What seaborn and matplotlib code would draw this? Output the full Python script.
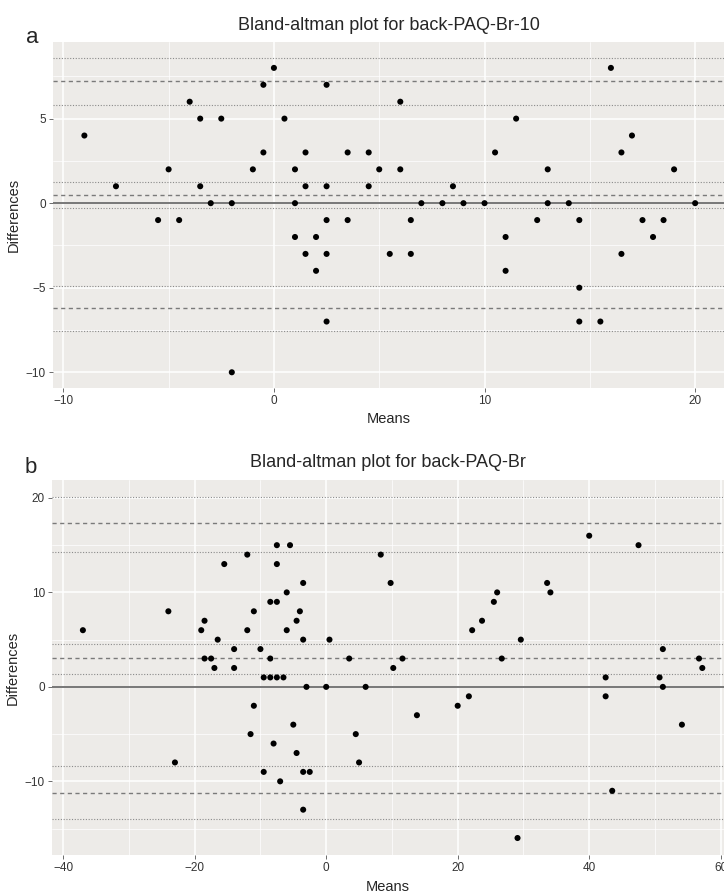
import matplotlib
matplotlib.use("Agg")
import matplotlib.pyplot as plt
import seaborn as sns
import pandas as pd

# panel a: back-PAQ-Br-10
means_a = [-9.0, -7.5, -5.5, -5.0, -4.5, -4.0, -3.5, -3.5, -3.0, -2.5, -2.0, -2.0,
           -1.0, -0.5, -0.5, 0.0, 0.5, 1.0, 1.0, 1.0, 1.5, 1.5, 1.5, 2.0, 2.0,
           2.5, 2.5, 2.5, 2.5, 2.5, 3.5, 3.5, 4.5, 4.5,
           5.0, 5.5, 6.0, 6.0, 6.5, 6.5, 7.0, 8.0, 8.5, 9.0, 10.0, 10.5, 11.0, 11.0,
           11.5, 12.5, 13.0, 13.0, 14.0, 14.5, 14.5, 14.5, 15.5, 16.0, 16.5, 16.5,
           17.0, 17.5, 18.0, 18.5, 19.0, 20.0]
diffs_a = [4, 1, -1, 2, -1, 6, 5, 1, 0, 5, 0, -10,
           2, 7, 3, 8, 5, 2, 0, -2, 3, 1, -3, -2, -4,
           7, 1, -1, -3, -7, 3, -1, 3, 1,
           2, -3, 6, 2, -1, -3, 0, 0, 1, 0, 0, 3, -2, -4,
           5, -1, 2, 0, 0, -1, -5, -7, -7, 8, 3, -3,
           4, -1, -2, -1, 2, 0]
mean_a = 0.47
loa_a = [7.24, -6.2]
ci_a = [8.6, 5.82, 1.25, -0.3, -4.88, -7.55]

# panel b: back-PAQ-Br
means_b = [-37.0, -24.0, -23.0, -19.0, -18.5, -18.5, -17.5, -17.0, -16.5, -15.5,
           -14.0, -14.0, -12.0, -12.0, -11.5, -11.0, -11.0, -10.0, -9.5, -9.5,
           -8.5, -8.5, -8.5, -8.0, -7.5, -7.5, -7.5, -7.5, -7.0, -6.5, -6.0, -6.0,
           -5.5, -5.0, -4.5, -4.5, -4.0, -3.5, -3.5, -3.5, -3.5, -3.0, -2.5,
           0.0, 0.5, 3.5, 4.5, 5.0, 6.0,
           8.3, 9.8, 10.2, 11.6, 13.8, 20.0, 21.7, 22.2, 23.7, 25.5, 26.0, 26.7,
           29.1, 29.6, 33.6, 34.1, 40.0, 42.5, 42.5, 43.5, 47.5, 50.7, 51.2, 51.2,
           54.1, 56.7, 57.2]
diffs_b = [6, 8, -8, 6, 7, 3, 3, 2, 5, 13,
           4, 2, 14, 6, -5, 8, -2, 4, 1, -9,
           9, 3, 1, -6, 15, 13, 9, 1, -10, 1, 10, 6,
           15, -4, 7, -7, 8, 11, 5, -9, -13, 0, -9,
           0, 5, 3, -5, -8, 0,
           14, 11, 2, 3, -3, -2, -1, 6, 7, 9, 10, 3,
           -16, 5, 11, 10, 16, 1, -1, -11, 15, 1, 4, 0,
           -4, 3, 2]
mean_b = 3.03
loa_b = [17.3, -11.23]
ci_b = [20.1, 14.3, 4.58, 1.34, -8.42, -14.0]

sns.set_theme(style="darkgrid", rc={"axes.facecolor": "#EDEBE8",
                                    "grid.color": "white"})
plt.rcParams["font.family"] = ["Liberation Sans", "DejaVu Sans"]

fig = plt.figure(figsize=(7.24, 8.94), dpi=100)
ax_a = fig.add_axes([0.0732, 0.566, 0.9268, 0.387])
ax_b = fig.add_axes([0.0718, 0.0436, 0.9282, 0.4195])


def bland_altman(ax, means, diffs, mean_d, loa, ci, title, letter, letter_y,
                 xlim, ylim, xmaj, xmin, ymaj, ymin):
    df = pd.DataFrame({"Means": means, "Differences": diffs})
    ax.set_xlim(*xlim)
    ax.set_ylim(*ylim)
    ax.set_xticks(xmaj)
    ax.set_xticks(xmin, minor=True)
    ax.set_yticks(ymaj)
    ax.set_yticks(ymin, minor=True)
    ax.grid(which="major", color="white", linewidth=1.1)
    ax.grid(which="minor", color="white", linewidth=0.5)
    for s in ax.spines.values():
        s.set_visible(False)

    # zero line, mean difference, limits of agreement and their CIs
    ax.axhline(0, color="#777777", linewidth=1.4, zorder=2)
    ax.axhline(mean_d, color="#7a7a7a", linestyle=(0, (3, 2.5)), linewidth=1.0, zorder=2)
    for v in loa:
        ax.axhline(v, color="#7a7a7a", linestyle=(0, (3, 2.5)), linewidth=1.0, zorder=2)
    for v in ci:
        ax.axhline(v, color="#8a8a8a", linestyle=(0, (1, 1.5)), linewidth=0.8, zorder=2)

    sns.scatterplot(data=df, x="Means", y="Differences", ax=ax, color="black",
                    s=19, edgecolor="none", zorder=3)

    ax.tick_params(axis="both", which="major", length=3, width=0.6, color="#555555",
                   labelsize=8.5, labelcolor="#333333", pad=2, direction="out",
                   bottom=True, left=True)
    ax.tick_params(which="minor", length=0)
    ax.set_xlabel("Means", fontsize=10.5, labelpad=4)
    ax.set_ylabel("Differences", fontsize=10.5, labelpad=4)
    ax.set_title(title, fontsize=13, pad=9)
    ax.text(-0.022, letter_y, letter, transform=ax.transAxes, fontsize=16,
            ha="right", va="baseline")


bland_altman(ax_a, means_a, diffs_a, mean_a, loa_a, ci_a,
             "Bland-altman plot for back-PAQ-Br-10", "a", 0.998,
             (-10.49, 21.37), (-10.93, 9.53),
             [-10, 0, 10, 20], [-5, 5, 15], [-10, -5, 0, 5], [-7.5, -2.5, 2.5, 7.5])
bland_altman(ax_b, means_b, diffs_b, mean_b, loa_b, ci_b,
             "Bland-altman plot for back-PAQ-Br", "b", 1.019,
             (-41.7, 60.5), (-17.8, 21.9),
             [-40, -20, 0, 20, 40, 60], [-30, -10, 10, 30, 50],
             [-10, 0, 10, 20], [-15, -5, 5, 15])

fig.savefig("out.png", dpi=100)
